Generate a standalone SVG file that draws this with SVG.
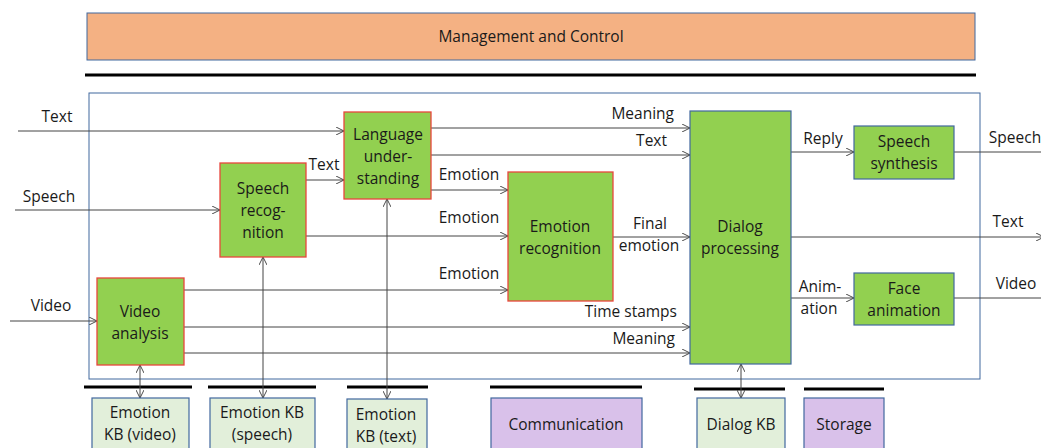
<svg xmlns="http://www.w3.org/2000/svg" width="1041" height="448" viewBox="0 0 1041 448">
<style>
text{font-family:"Open Sans","Liberation Sans",sans-serif;font-size:15.5px;fill:#1a1a1a;text-anchor:middle}
.r{text-anchor:end}
.g{fill:#92D050;stroke:#E8463C;stroke-width:1.3}
.gb{fill:#92D050;stroke:#41689E;stroke-width:1.2}
.kb{fill:#E2EFDA;stroke:#41689E;stroke-width:1.2}
.pu{fill:#D9C1EA;stroke:#41689E;stroke-width:1.2}
.bar{stroke:#000;stroke-width:3}
.c{stroke:#444;stroke-width:1;fill:none}
</style>
<defs>
<marker id="a" viewBox="0 0 10 10" refX="10" refY="5" markerWidth="8" markerHeight="8" markerUnits="userSpaceOnUse" orient="auto-start-reverse">
<polyline points="0,0 10,5 0,10" fill="none" stroke="#444" stroke-width="1.2"/>
</marker>
</defs>
<rect width="1041" height="448" fill="#fff"/>
<g id="management">
<rect x="87" y="13" width="888" height="47" fill="#F4B183" stroke="#41689E" stroke-width="1"/>
<text x="531" y="42">Management and Control</text>
</g>
<line class="bar" x1="85" y1="75" x2="976" y2="75"/>
<rect id="frame" x="89" y="93" width="891" height="286" fill="none" stroke="#41689E" stroke-width="1"/>
<g id="bars">
<line class="bar" x1="84" y1="387" x2="192" y2="387"/>
<line class="bar" x1="208" y1="387" x2="316" y2="387"/>
<line class="bar" x1="347" y1="387" x2="428" y2="387"/>
<line class="bar" x1="490" y1="387" x2="642" y2="387"/>
<line class="bar" x1="694" y1="389" x2="785" y2="389"/>
<line class="bar" x1="804" y1="389" x2="884" y2="389"/>
</g>
<g id="connectors">
<line class="c" x1="18" y1="131" x2="344" y2="131" marker-end="url(#a)"/>
<line class="c" x1="15" y1="210" x2="220" y2="210" marker-end="url(#a)"/>
<line class="c" x1="10" y1="321" x2="97" y2="321" marker-end="url(#a)"/>
<line class="c" x1="306" y1="180" x2="344" y2="180" marker-end="url(#a)"/>
<line class="c" x1="306" y1="236" x2="508" y2="236" marker-end="url(#a)"/>
<line class="c" x1="431" y1="128" x2="690" y2="128" marker-end="url(#a)"/>
<line class="c" x1="431" y1="155" x2="690" y2="155" marker-end="url(#a)"/>
<line class="c" x1="431" y1="190" x2="508" y2="190" marker-end="url(#a)"/>
<line class="c" x1="184" y1="290" x2="508" y2="290" marker-end="url(#a)"/>
<line class="c" x1="184" y1="327" x2="690" y2="327" marker-end="url(#a)"/>
<line class="c" x1="184" y1="353" x2="690" y2="353" marker-end="url(#a)"/>
<line class="c" x1="613" y1="237" x2="690" y2="237" marker-end="url(#a)"/>
<line class="c" x1="791" y1="152" x2="854" y2="152" marker-end="url(#a)"/>
<line class="c" x1="954" y1="152" x2="1041" y2="152"/>
<line class="c" x1="791" y1="237" x2="1044" y2="237" marker-end="url(#a)"/>
<line class="c" x1="791" y1="298" x2="854" y2="298" marker-end="url(#a)"/>
<line class="c" x1="954" y1="298" x2="1041" y2="298"/>
<line class="c" x1="140" y1="365" x2="140" y2="398" marker-start="url(#a)" marker-end="url(#a)"/>
<line class="c" x1="263" y1="257" x2="263" y2="398" marker-start="url(#a)" marker-end="url(#a)"/>
<line class="c" x1="387" y1="199" x2="387" y2="399" marker-start="url(#a)" marker-end="url(#a)"/>
<line class="c" x1="741" y1="364" x2="741" y2="398" marker-start="url(#a)" marker-end="url(#a)"/>
</g>
<g id="labels">
<text x="57" y="122">Text</text>
<text x="49" y="202">Speech</text>
<text x="51" y="311">Video</text>
<text x="324" y="170">Text</text>
<text x="469" y="180">Emotion</text>
<text x="469" y="223">Emotion</text>
<text x="469" y="279">Emotion</text>
<text class="r" x="674" y="119">Meaning</text>
<text class="r" x="667" y="146">Text</text>
<text x="650" y="229">Final</text>
<text x="649" y="251">emotion</text>
<text class="r" x="677" y="317">Time stamps</text>
<text class="r" x="675" y="344">Meaning</text>
<text x="823" y="144">Reply</text>
<text x="1015" y="143">Speech</text>
<text x="1008" y="227">Text</text>
<text x="820" y="292">Anim-</text>
<text x="819" y="314">ation</text>
<text x="1016" y="289">Video</text>
</g>
<g id="video-analysis">
<rect class="g" x="97" y="278" width="87" height="87"/>
<text x="140" y="317">Video</text>
<text x="140" y="339">analysis</text>
</g>
<g id="speech-recognition">
<rect class="g" x="220" y="163" width="86" height="94"/>
<text x="263" y="194">Speech</text>
<text x="263" y="216">recog-</text>
<text x="263" y="238">nition</text>
</g>
<g id="language-understanding">
<rect class="g" x="344" y="112" width="87" height="87"/>
<text x="388" y="140">Language</text>
<text x="388" y="162">under-</text>
<text x="388" y="184">standing</text>
</g>
<g id="emotion-recognition">
<rect class="g" x="508" y="172" width="105" height="129"/>
<text x="560" y="232">Emotion</text>
<text x="560" y="254">recognition</text>
</g>
<g id="dialog-processing">
<rect class="gb" x="690" y="111" width="101" height="253"/>
<text x="740" y="232">Dialog</text>
<text x="740" y="254">processing</text>
</g>
<g id="speech-synthesis">
<rect class="gb" x="854" y="126" width="100" height="53"/>
<text x="904" y="147">Speech</text>
<text x="904" y="169">synthesis</text>
</g>
<g id="face-animation">
<rect class="gb" x="854" y="273" width="100" height="52"/>
<text x="904" y="294">Face</text>
<text x="904" y="316">animation</text>
</g>
<g id="emotion-kb-video">
<rect class="kb" x="92" y="398" width="97" height="60"/>
<text x="140" y="418">Emotion</text>
<text x="140" y="440">KB (video)</text>
</g>
<g id="emotion-kb-speech">
<rect class="kb" x="210" y="398" width="105" height="60"/>
<text x="262" y="418">Emotion KB</text>
<text x="262" y="440">(speech)</text>
</g>
<g id="emotion-kb-text">
<rect class="kb" x="347" y="399" width="80" height="60"/>
<text x="386" y="420">Emotion</text>
<text x="386" y="442">KB (text)</text>
</g>
<g id="communication">
<rect class="pu" x="491" y="398" width="151" height="60"/>
<text x="566" y="430">Communication</text>
</g>
<g id="dialog-kb">
<rect class="kb" x="697" y="398" width="88" height="60"/>
<text x="741" y="430">Dialog KB</text>
</g>
<g id="storage">
<rect class="pu" x="804" y="398" width="80" height="60"/>
<text x="844" y="430">Storage</text>
</g>
</svg>
